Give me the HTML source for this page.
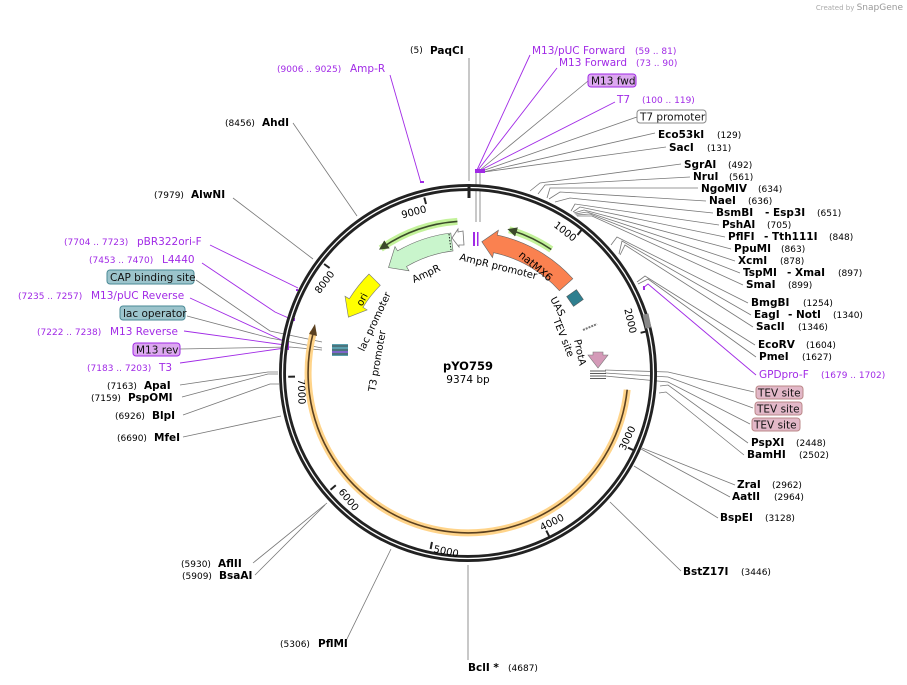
<!DOCTYPE html>
<html><head><meta charset="utf-8"><style>
body{margin:0;background:#fff;}
svg{display:block;font-family:"DejaVu Sans","Liberation Sans",sans-serif;}
.e{font-weight:bold;font-size:10.5px;fill:#000}
.n{font-size:9px;fill:#000}
.p{font-size:10.5px;fill:#a12ae6}
.pn{font-size:9px;fill:#a12ae6}
.c{stroke:#777;stroke-width:0.8;fill:none}
.cp{stroke:#a12ae6;stroke-width:0.9;fill:none}
.b{font-size:10.5px;fill:#111}
.t{font-size:10px;fill:#000}
</style></head><body>
<svg width="907" height="685" viewBox="0 0 907 685" xmlns="http://www.w3.org/2000/svg">
<defs>
<marker id="ah" markerWidth="6" markerHeight="6" refX="3" refY="3" orient="auto"><path d="M0,0 L6,3 L0,6 Z" fill="#3b4a2a"/></marker>
</defs>
<text x="903" y="10" text-anchor="end" style="font-size:7px;fill:#aaa">Created by <tspan style="font-size:9px;fill:#999">SnapGene</tspan></text>

<!-- connectors -->
<g class="c">
<polyline points="469,58 469,181"/>
<polyline points="588,81 480,170"/>
<polyline points="637,117 482,171"/>
<polyline points="655,133 483,172"/>
<polyline points="666,147 484,172"/>
<polyline points="476,172 476,222"/><polyline points="480,172 480,222"/>
<polyline points="681,164 540,183 530,191"/>
<polyline points="690,177 545,185 538,194"/>
<polyline points="698,188 550,188 547,198"/>
<polyline points="706,201 560,192 549,199"/>
<polyline points="713,213 570,198 555,202"/>
<polyline points="719,225 575,204 571,211"/>
<polyline points="725,237 580,207 573,212"/>
<polyline points="731,249 584,210 574,213"/>
<polyline points="735,261 587,212 575,214"/>
<polyline points="740,273 590,214 576,215"/>
<polyline points="743,285 592,216 577,216"/>
<polyline points="748,303 617,237 611,245"/>
<polyline points="751,315 622,241 619,254"/>
<polyline points="753,327 625,245 620,255"/>
<polyline points="755,345 645,276 637,282"/>
<polyline points="756,357 648,279 638,284"/>
<polyline points="754,392 668,372 605,370"/>
<polyline points="753,408 668,377 605,373"/>
<polyline points="750,424 668,382 605,376"/>
<polyline points="748,443 668,385 660,386"/>
<polyline points="744,455 666,392 659,393"/>
<polyline points="735,485 642,448"/>
<polyline points="730,497 641,449"/>
<polyline points="718,518 634,466"/>
<polyline points="681,571 610,502"/>
<polyline points="468,660 468,565"/>
<polyline points="345,643 391,549"/>
<polyline points="253,563 327,503"/>
<polyline points="255,575 325,505"/>
<polyline points="183,437 281,416"/>
<polyline points="183,415 270,384 279,384"/>
<polyline points="182,397 268,374 278,374"/>
<polyline points="180,385 268,372 278,372"/>
<polyline points="180,349 290,347 322,350"/>
<polyline points="187,316 270,338 322,348"/>
<polyline points="196,280 270,331 322,342"/>
<polyline points="233,198 313,259"/>
<polyline points="293,123 357,216"/>
</g>
<g class="cp">
<polyline points="530,55 477,170"/>
<polyline points="557,68 478,170"/>
<polyline points="615,102 481,170"/>
<polyline points="756,375 648,284 643,288"/>
<polyline points="180,363 285,348"/>
<polyline points="184,331 285,345"/>
<polyline points="190,298 288,343"/>
<polyline points="202,263 275,312 293,320"/>
<polyline points="210,245 298,288"/>
<polyline points="390,75 421,183"/>
</g>
<g fill="#a12ae6">
<rect x="475" y="169" width="10" height="4"/>
<rect x="420" y="181" width="4" height="2"/>
<rect x="293" y="318" width="2" height="3"/>
<rect x="296" y="289" width="2" height="2"/>
<rect x="287" y="342" width="2" height="8"/>
<rect x="643" y="286" width="2" height="4"/>
<rect x="473" y="232" width="2" height="14"/><rect x="477" y="232" width="1.5" height="14"/>
</g>

<!-- backbone -->
<circle cx="468" cy="373" r="185.5" fill="none" stroke="#222" stroke-width="7"/>
<circle cx="468" cy="373" r="185.5" fill="none" stroke="#fff" stroke-width="1.3"/>
<line x1="469" y1="184" x2="469" y2="198" stroke="#222" stroke-width="3"/>

<!-- ticks -->
<g stroke="#222" stroke-width="2">
<line x1="581.8" y1="229.6" x2="577.5" y2="235"/>
<line x1="647.4" y1="331.2" x2="640.6" y2="332.8"/>
<line x1="634.4" y1="450.6" x2="628" y2="447.6"/>
<line x1="549.3" y1="536.6" x2="546.3" y2="530.6"/>
<line x1="430.6" y1="549" x2="432" y2="542"/>
<line x1="330.5" y1="489.7" x2="335.8" y2="485.2"/>
<line x1="288.2" y1="376.8" x2="295" y2="376.6"/>
<line x1="324.1" y1="264" x2="329.6" y2="268"/>
<line x1="424.3" y1="197.5" x2="426" y2="204"/>
</g>
<g class="t">
<text transform="translate(573,242) rotate(38.4)" text-anchor="end">1000</text>
<text transform="translate(630,334) rotate(76.8)" text-anchor="end">2000</text>
<text transform="translate(625,451) rotate(-64.8)">3000</text>
<text transform="translate(542,531) rotate(-26.4)">4000</text>
<text transform="translate(433,552) rotate(12)">5000</text>
<text transform="translate(338,492) rotate(50.4)">6000</text>
<text transform="translate(298,379) rotate(88.8)">7000</text>
<text transform="translate(335,274) rotate(-52.8)" text-anchor="end">8000</text>
<text transform="translate(427,212) rotate(-14.4)" text-anchor="end">9000</text>
</g>

<!-- features -->
<path d="M627.2,389.7 A160,160 0 1,1 313.5,331.6" fill="none" stroke="#ffd48a" stroke-width="7"/>
<path d="M627.2,389.7 A160,160 0 1,1 313.5,331.6" fill="none" stroke="#5a4020" stroke-width="1.6"/>
<path d="M315,324 L317,336 L309,334 Z" fill="#5a4020"/>

<path d="M551.3,249.5 A149,149 0 0,0 509.1,229.8" fill="none" stroke="#c3f29a" stroke-width="7"/>
<path d="M551.3,249.5 A149,149 0 0,0 512,230.5" fill="none" stroke="#3b4a2a" stroke-width="1.6" marker-end="url(#ah)"/>
<path d="M457.4,221.4 A152,152 0 0,0 380.8,248.5" fill="none" stroke="#c3f29a" stroke-width="7"/>
<path d="M457.4,221.4 A152,152 0 0,0 383,247" fill="none" stroke="#3b4a2a" stroke-width="1.6" marker-end="url(#ah)"/>

<path d="M572.8,278.7 A141,141 0 0,0 497.3,235.1 L498.4,230.2 L481.8,241.7 L492.5,257.6 L493.6,252.7 A123,123 0 0,1 559.4,290.7 Z" fill="#fa8150" stroke="#666" stroke-width="0.6"/>
<path d="M450.8,233 A141,141 0 0,0 397.5,250.9 L395,246.6 L388.5,267.5 L409,270.8 L406.5,266.5 A123,123 0 0,1 453,250.9 Z" fill="#c9f5cc" stroke="#666" stroke-width="0.6"/>
<line x1="449" y1="234" x2="451" y2="250" stroke="#222" stroke-dasharray="1.5,1.5"/>
<path d="M463,231 L458,232 L458,229 L452,238 L459,247 L459,245 L464,245 Z" fill="#fff" stroke="#777" stroke-width="0.8"/>
<path d="M369,274 A140,140 0 0,0 349.3,298.8 L345,296.2 L348.4,317.2 L367.1,309.9 L362.9,307.3 A124,124 0 0,1 380.3,285.3 Z" fill="#ffff00" stroke="#777" stroke-width="0.6"/>
<rect x="569" y="292" width="12" height="12" fill="#2f7f8f" stroke="#555" stroke-width="0.5" transform="rotate(55 575 298)"/>
<line x1="583" y1="330" x2="597" y2="324" stroke="#777" stroke-width="2" stroke-dasharray="2,1"/>
<path d="M593,352 L603,352 L603,355 L608,355 L598,368 L588,355 L593,355 Z" fill="#d49ab8" stroke="#777" stroke-width="0.6"/>
<g stroke="#333" stroke-width="0.8"><line x1="590" y1="371" x2="606" y2="371"/><line x1="590" y1="373.5" x2="606" y2="373.5"/><line x1="590" y1="376" x2="606" y2="376"/><line x1="590" y1="378.5" x2="606" y2="378.5"/></g>
<rect x="332" y="344" width="16" height="12" fill="#5aa0ae"/>
<g stroke="#333" stroke-width="0.8"><line x1="332" y1="346" x2="348" y2="346"/><line x1="332" y1="350" x2="348" y2="350"/><line x1="332" y1="354" x2="348" y2="354"/></g>
<line x1="332" y1="352" x2="348" y2="352" stroke="#a12ae6"/>
<rect x="644" y="314" width="6" height="14" fill="#888" transform="rotate(-12 647 321)"/>

<!-- feature labels -->
<g class="t">
<text transform="translate(414,283) rotate(-25)">AmpR</text>
<text transform="translate(459,260) rotate(14)">AmpR promoter</text>
<text transform="translate(518,256) rotate(40)" style="font-size:10.5px">natMX6</text>
<text transform="translate(550,299) rotate(62)">UAS</text>
<text transform="translate(553,320) rotate(68)">TEV site</text>
<text transform="translate(574,340) rotate(78)">ProtA</text>
<text transform="translate(365,301) rotate(-62)" text-anchor="middle" style="font-size:10px">ori</text>
<text transform="translate(364,352) rotate(-65)">lac promoter</text>
<text transform="translate(375,392) rotate(-80)">T3 promoter</text>
</g>
<text x="468" y="370" text-anchor="middle" style="font-weight:bold;font-size:11.5px">pYO759</text>
<text x="468" y="383" text-anchor="middle" style="font-size:10.5px">9374 bp</text>

<!-- labels -->
<text x="410" y="53" class="n">(5)</text><text x="430" y="54" class="e">PaqCI</text>
<text x="532" y="54" class="p">M13/pUC Forward</text><text x="635" y="54" class="pn">(59 .. 81)</text>
<text x="559" y="66" class="p">M13 Forward</text><text x="636" y="66" class="pn">(73 .. 90)</text>
<rect x="588" y="74" width="48" height="13" rx="3" fill="#dca8f0" stroke="#a12ae6"/><text x="591" y="84.5" class="b">M13 fwd</text>
<text x="617" y="103" class="p">T7</text><text x="642" y="103" class="pn">(100 .. 119)</text>
<rect x="637" y="110" width="69" height="13" rx="3" fill="#fff" stroke="#888"/><text x="640" y="120.5" class="b">T7 promoter</text>
<text x="658" y="138" class="e">Eco53kI</text><text x="717" y="138" class="n">(129)</text>
<text x="669" y="151" class="e">SacI</text><text x="707" y="151" class="n">(131)</text>
<text x="684" y="168" class="e">SgrAI</text><text x="728" y="168" class="n">(492)</text>
<text x="693" y="180" class="e">NruI</text><text x="729" y="180" class="n">(561)</text>
<text x="701" y="192" class="e">NgoMIV</text><text x="758" y="192" class="n">(634)</text>
<text x="709" y="204" class="e">NaeI</text><text x="748" y="204" class="n">(636)</text>
<text x="716" y="216" class="e">BsmBI</text><text x="765" y="216" class="e">- Esp3I</text><text x="817" y="216" class="n">(651)</text>
<text x="722" y="228" class="e">PshAI</text><text x="767" y="228" class="n">(705)</text>
<text x="728" y="240" class="e">PflFI</text><text x="764" y="240" class="e">- Tth111I</text><text x="829" y="240" class="n">(848)</text>
<text x="734" y="252" class="e">PpuMI</text><text x="781" y="252" class="n">(863)</text>
<text x="738" y="264" class="e">XcmI</text><text x="780" y="264" class="n">(878)</text>
<text x="743" y="276" class="e">TspMI</text><text x="787" y="276" class="e">- XmaI</text><text x="838" y="276" class="n">(897)</text>
<text x="746" y="288" class="e">SmaI</text><text x="788" y="288" class="n">(899)</text>
<text x="751" y="306" class="e">BmgBI</text><text x="803" y="306" class="n">(1254)</text>
<text x="754" y="318" class="e">EagI</text><text x="788" y="318" class="e">- NotI</text><text x="833" y="318" class="n">(1340)</text>
<text x="756" y="330" class="e">SacII</text><text x="798" y="330" class="n">(1346)</text>
<text x="758" y="348" class="e">EcoRV</text><text x="806" y="348" class="n">(1604)</text>
<text x="759" y="360" class="e">PmeI</text><text x="802" y="360" class="n">(1627)</text>
<text x="759" y="378" class="p">GPDpro-F</text><text x="821" y="378" class="pn">(1679 .. 1702)</text>
<rect x="756" y="386" width="47" height="13" rx="3" fill="#e2b8c8" stroke="#b88"/><text x="758" y="396.5" class="b">TEV site</text>
<rect x="755" y="402" width="47" height="13" rx="3" fill="#e2b8c8" stroke="#b88"/><text x="757" y="412.5" class="b">TEV site</text>
<rect x="752" y="418" width="48" height="13" rx="3" fill="#e2b8c8" stroke="#b88"/><text x="754" y="428.5" class="b">TEV site</text>
<text x="751" y="446" class="e">PspXI</text><text x="796" y="446" class="n">(2448)</text>
<text x="747" y="458" class="e">BamHI</text><text x="799" y="458" class="n">(2502)</text>
<text x="737" y="488" class="e">ZraI</text><text x="772" y="488" class="n">(2962)</text>
<text x="732" y="500" class="e">AatII</text><text x="774" y="500" class="n">(2964)</text>
<text x="720" y="521" class="e">BspEI</text><text x="765" y="521" class="n">(3128)</text>
<text x="683" y="575" class="e">BstZ17I</text><text x="741" y="575" class="n">(3446)</text>
<text x="468" y="671" class="e">BclI *</text><text x="508" y="671" class="n">(4687)</text>
<text x="280" y="647" class="n">(5306)</text><text x="318" y="647" class="e">PflMI</text>
<text x="181" y="567" class="n">(5930)</text><text x="218" y="567" class="e">AflII</text>
<text x="182" y="579" class="n">(5909)</text><text x="219" y="579" class="e">BsaAI</text>
<text x="117" y="441" class="n">(6690)</text><text x="154" y="441" class="e">MfeI</text>
<text x="115" y="419" class="n">(6926)</text><text x="152" y="419" class="e">BlpI</text>
<text x="91" y="401" class="n">(7159)</text><text x="128" y="401" class="e">PspOMI</text>
<text x="107" y="389" class="n">(7163)</text><text x="144" y="389" class="e">ApaI</text>
<text x="87" y="371" class="pn">(7183 .. 7203)</text><text x="159" y="371" class="p">T3</text>
<rect x="133" y="343" width="47" height="13" rx="3" fill="#dca8f0" stroke="#a12ae6"/><text x="136" y="353.5" class="b">M13 rev</text>
<text x="37" y="335" class="pn">(7222 .. 7238)</text><text x="110" y="335" class="p">M13 Reverse</text>
<rect x="120" y="306" width="65" height="14" rx="3" fill="#9cc4cc" stroke="#4a8a96"/><text x="123" y="317" class="b">lac operator</text>
<text x="18" y="299" class="pn">(7235 .. 7257)</text><text x="91" y="299" class="p">M13/pUC Reverse</text>
<rect x="107" y="270" width="87" height="14" rx="3" fill="#9cc4cc" stroke="#4a8a96"/><text x="110" y="281" class="b">CAP binding site</text>
<text x="89" y="263" class="pn">(7453 .. 7470)</text><text x="162" y="263" class="p">L4440</text>
<text x="64" y="245" class="pn">(7704 .. 7723)</text><text x="137" y="245" class="p">pBR322ori-F</text>
<text x="154" y="198" class="n">(7979)</text><text x="191" y="198" class="e">AlwNI</text>
<text x="225" y="126" class="n">(8456)</text><text x="262" y="126" class="e">AhdI</text>
<text x="277" y="72" class="pn">(9006 .. 9025)</text><text x="350" y="72" class="p">Amp-R</text>
</svg>
</body></html>
